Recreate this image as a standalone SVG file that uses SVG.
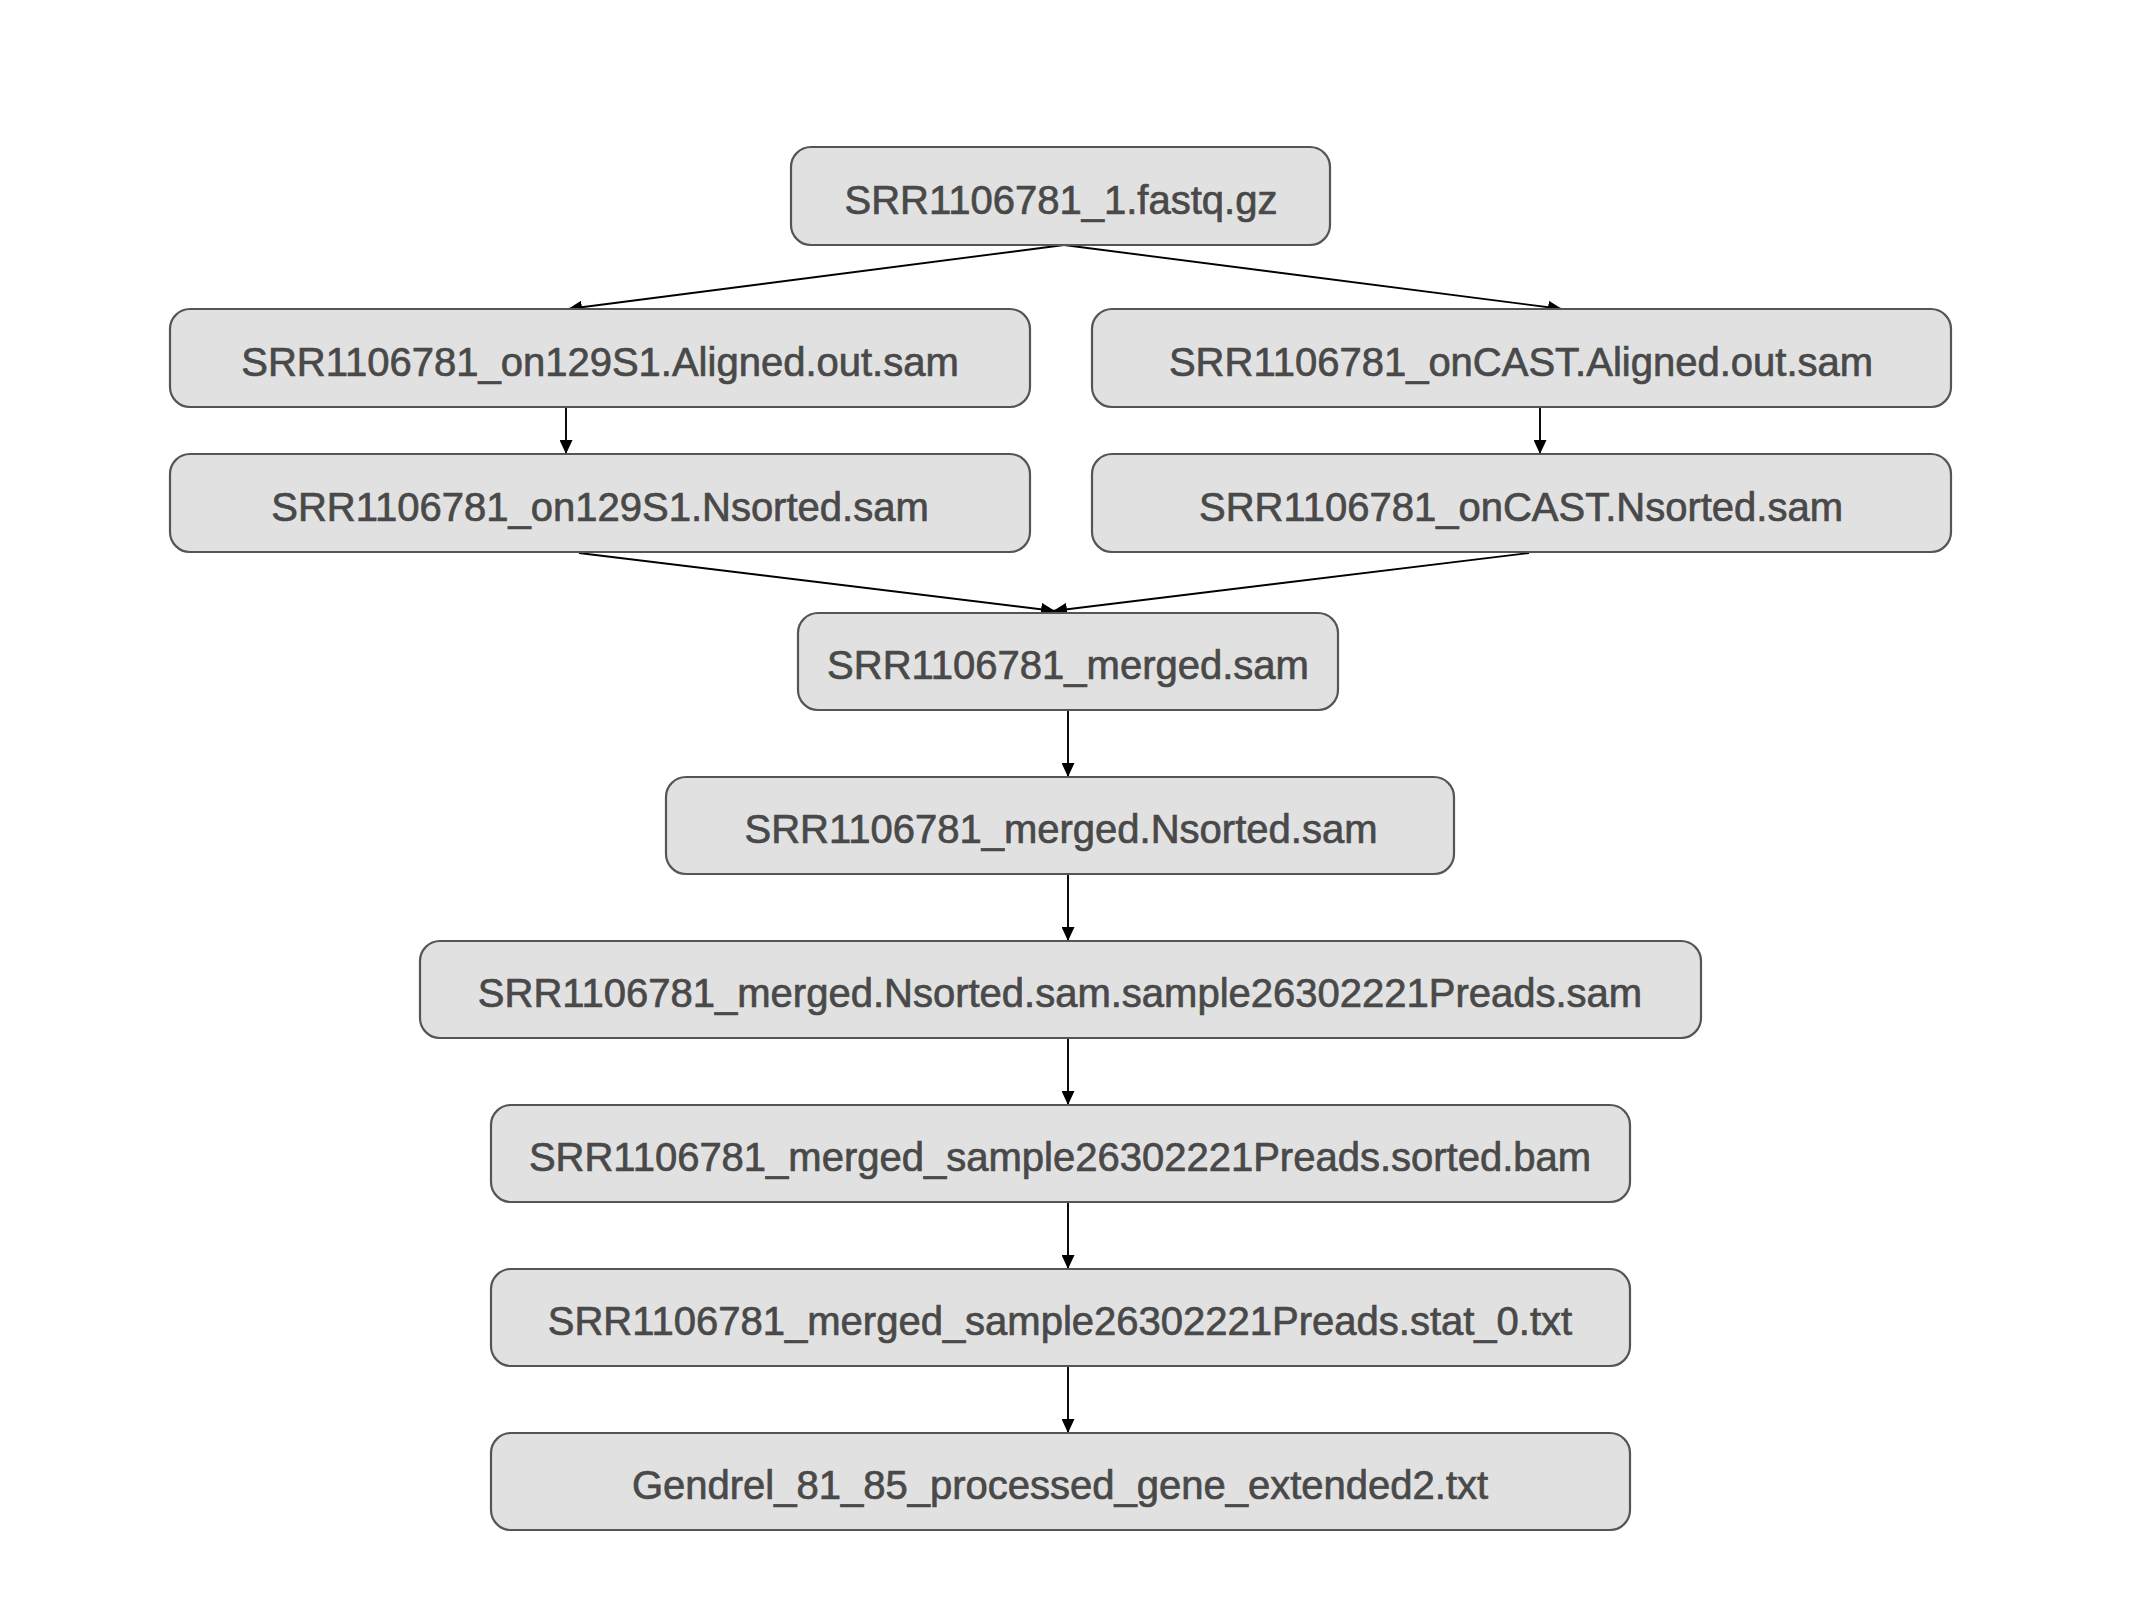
<svg xmlns="http://www.w3.org/2000/svg" width="2133" height="1600" viewBox="0 0 2133 1600">
  <style>
    .box { fill: #e1e1e1; stroke: #555555; stroke-width: 2.2; }
    .lbl { font-family: "Liberation Sans", Arial, Helvetica, sans-serif; font-size: 40px; fill: #494949; stroke: #494949; stroke-width: 0.7; text-anchor: middle; }
    .edge { stroke: #000000; stroke-width: 1.9; fill: none; marker-end: url(#arrow); }
  </style>
  <defs>
    <marker id="arrow" markerUnits="userSpaceOnUse" markerWidth="14" markerHeight="13" refX="14" refY="6.5" orient="auto">
      <path d="M0,0 L14,6.5 L0,13 z" fill="#000000"/>
    </marker>
  </defs>
  <rect width="2133" height="1600" fill="#ffffff"/>

  <g id="connectors">
    <line class="edge" x1="1064" y1="245" x2="568" y2="309"/>
    <line class="edge" x1="1064" y1="245" x2="1562" y2="309"/>
    <line class="edge" x1="566" y1="407" x2="566" y2="454"/>
    <line class="edge" x1="1540" y1="407" x2="1540" y2="454"/>
    <line class="edge" x1="579" y1="553" x2="1055" y2="611"/>
    <line class="edge" x1="1529" y1="553" x2="1053" y2="611"/>
    <line class="edge" x1="1068" y1="710" x2="1068" y2="777"/>
    <line class="edge" x1="1068" y1="874" x2="1068" y2="941"/>
    <line class="edge" x1="1068" y1="1038" x2="1068" y2="1105"/>
    <line class="edge" x1="1068" y1="1202" x2="1068" y2="1269"/>
    <line class="edge" x1="1068" y1="1366" x2="1068" y2="1433"/>
  </g>

  <g id="node-fastq">
    <rect class="box" x="791" y="147" width="539" height="98" rx="20"/>
    <text class="lbl" x="1061" y="214">SRR1106781_1.fastq.gz</text>
  </g>
  <g id="node-129-aligned">
    <rect class="box" x="170" y="309" width="860" height="98" rx="20"/>
    <text class="lbl" x="600" y="376">SRR1106781_on129S1.Aligned.out.sam</text>
  </g>
  <g id="node-cast-aligned">
    <rect class="box" x="1092" y="309" width="859" height="98" rx="20"/>
    <text class="lbl" x="1521" y="376">SRR1106781_onCAST.Aligned.out.sam</text>
  </g>
  <g id="node-129-nsorted">
    <rect class="box" x="170" y="454" width="860" height="98" rx="20"/>
    <text class="lbl" x="600" y="521">SRR1106781_on129S1.Nsorted.sam</text>
  </g>
  <g id="node-cast-nsorted">
    <rect class="box" x="1092" y="454" width="859" height="98" rx="20"/>
    <text class="lbl" x="1521" y="521">SRR1106781_onCAST.Nsorted.sam</text>
  </g>
  <g id="node-merged">
    <rect class="box" x="798" y="613" width="540" height="97" rx="20"/>
    <text class="lbl" x="1068" y="679">SRR1106781_merged.sam</text>
  </g>
  <g id="node-merged-nsorted">
    <rect class="box" x="666" y="777" width="788" height="97" rx="20"/>
    <text class="lbl" x="1061" y="843">SRR1106781_merged.Nsorted.sam</text>
  </g>
  <g id="node-sample">
    <rect class="box" x="420" y="941" width="1281" height="97" rx="20"/>
    <text class="lbl" x="1060" y="1007">SRR1106781_merged.Nsorted.sam.sample26302221Preads.sam</text>
  </g>
  <g id="node-sorted-bam">
    <rect class="box" x="491" y="1105" width="1139" height="97" rx="20"/>
    <text class="lbl" x="1060" y="1171">SRR1106781_merged_sample26302221Preads.sorted.bam</text>
  </g>
  <g id="node-stat">
    <rect class="box" x="491" y="1269" width="1139" height="97" rx="20"/>
    <text class="lbl" x="1060" y="1335">SRR1106781_merged_sample26302221Preads.stat_0.txt</text>
  </g>
  <g id="node-gendrel">
    <rect class="box" x="491" y="1433" width="1139" height="97" rx="20"/>
    <text class="lbl" x="1060" y="1499">Gendrel_81_85_processed_gene_extended2.txt</text>
  </g>
</svg>
